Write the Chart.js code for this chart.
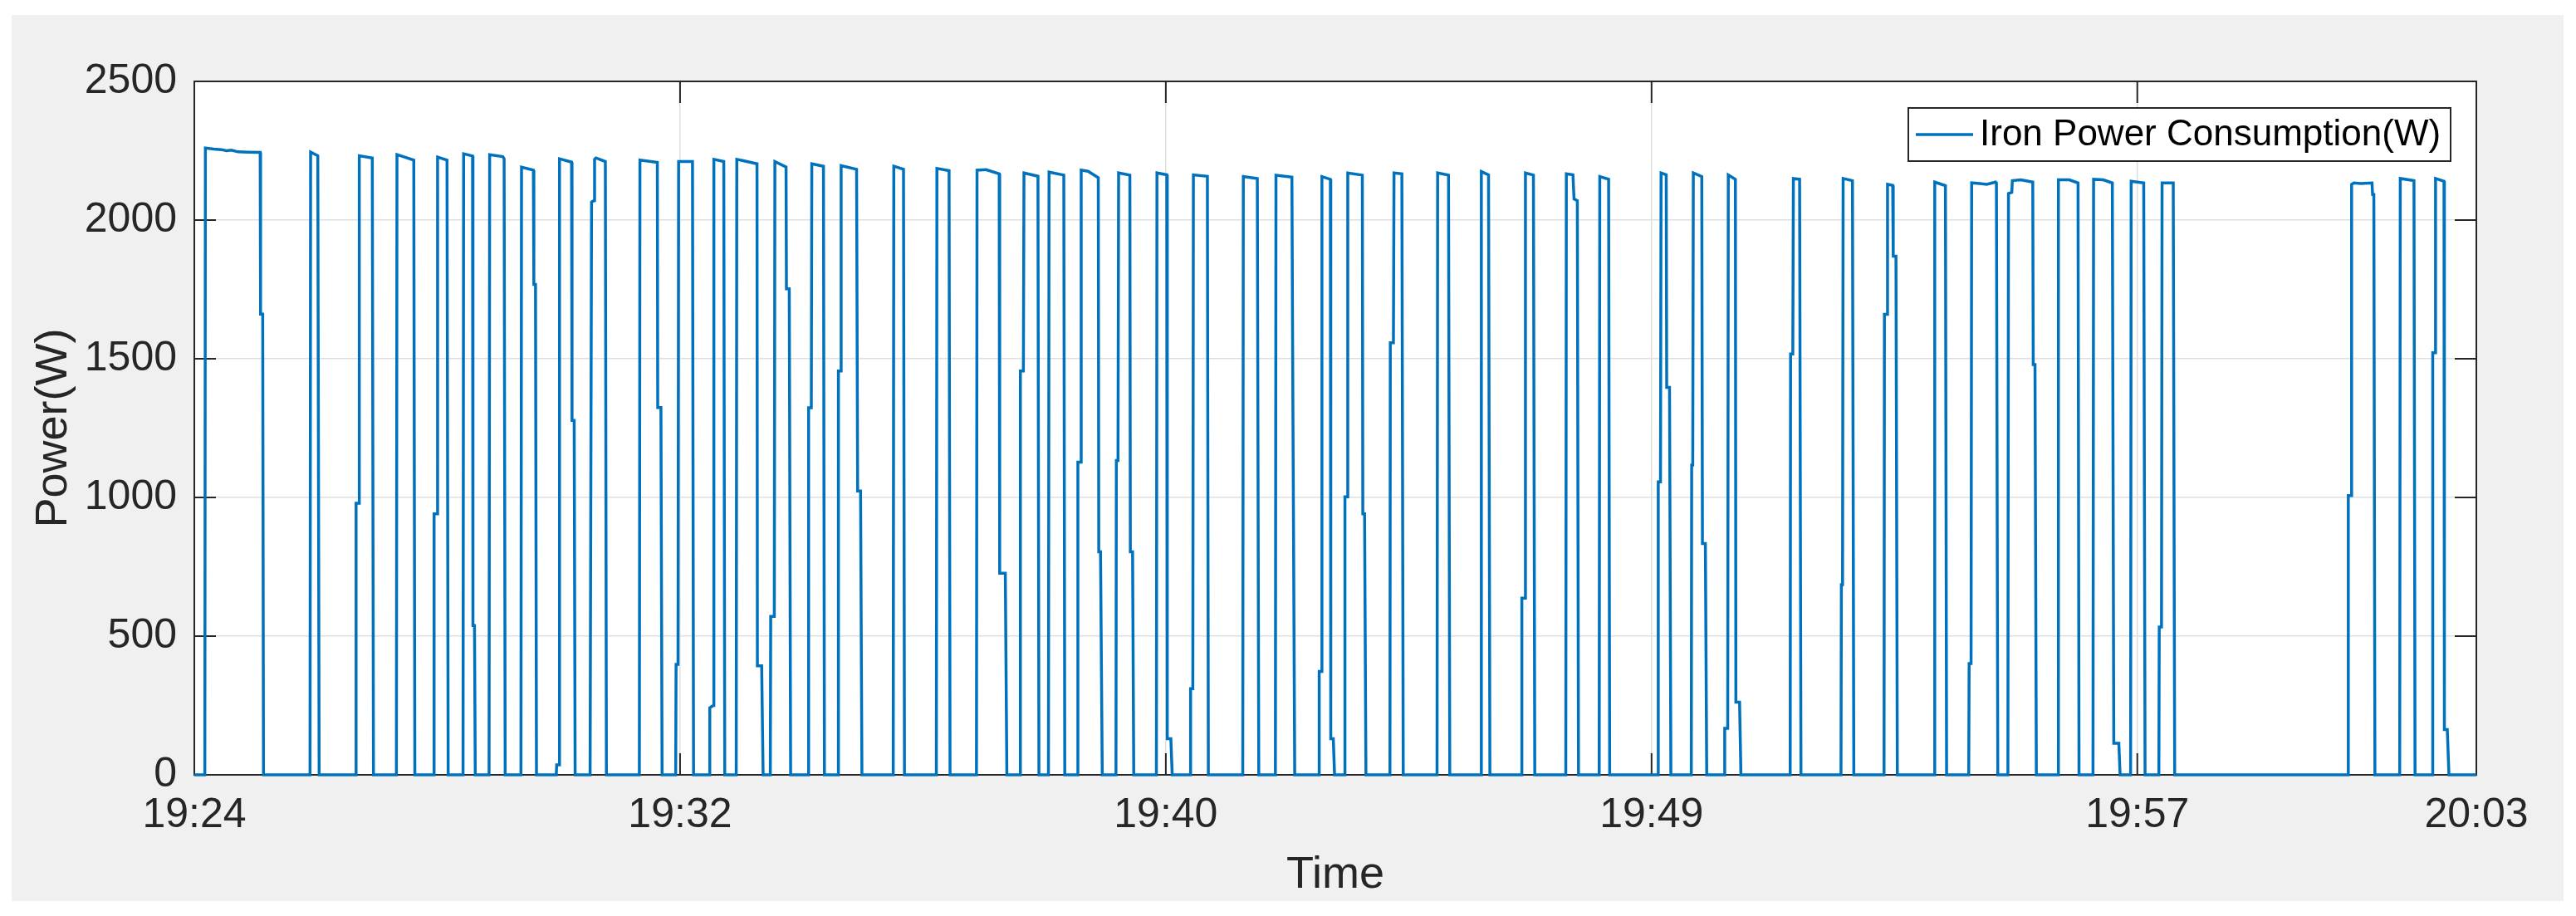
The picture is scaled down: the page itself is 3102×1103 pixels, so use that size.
<!DOCTYPE html>
<html>
<head>
<meta charset="utf-8">
<script src="https://cdn.jsdelivr.net/npm/chart.js@4.4.1/dist/chart.umd.min.js"></script>
<style>
  html, body { margin: 0; padding: 0; background: #ffffff; }
  canvas { display: block; }
</style>
</head>
<body>
<canvas id="ironChart" width="3102" height="1103"></canvas>
<script>
// x = seconds since 19:24, y = watts (vertices)
const ironSamples = [
    [0, 0],
    [10.8, 0], [11.4, 2260], [20, 2256], [28, 2254], [33, 2250], [38, 2252], [45, 2246], [55, 2245], [67.8, 2244], [68.2, 1661], [70.4, 1661], [71.2, 0],
    [119.1, 0], [119.7, 2245], [127.1, 2232], [128.5, 0],
    [166.1, 0], [166.5, 979], [169.3, 979], [169.8, 2232], [183.2, 2224], [184.4, 0],
    [208.0, 0], [208.6, 2236], [225.9, 2216], [227.0, 0],
    [246.4, 0], [246.8, 941], [249.9, 941], [250.4, 2227], [260.1, 2216], [261.3, 0],
    [276.6, 0], [277.2, 2239], [286.4, 2231], [286.8, 538], [288.4, 538], [289.2, 0],
    [303.4, 0], [304.0, 2236], [317.5, 2229], [318.9, 2221], [320.0, 0],
    [336.2, 0], [336.8, 2191], [349.0, 2180], [349.5, 1768], [351.2, 1768], [352.2, 0],
    [372.6, 0], [373.0, 36], [375.3, 36], [375.9, 2221], [388.3, 2209], [388.8, 1278], [391.0, 1278], [392.0, 0],
    [407.4, 0], [408.9, 2065], [411.4, 2070], [412.0, 2219], [413.5, 2224], [423.1, 2211], [424.2, 0],
    [458.1, 0], [458.7, 2216], [476.6, 2208], [477.0, 1324], [480.3, 1324], [481.5, 0],
    [495.5, 0], [495.9, 398], [497.9, 398], [498.5, 2211], [512.8, 2211], [513.9, 0],
    [530.0, 0], [530.6, 242], [534.3, 250], [534.8, 2219], [545.0, 2211], [546.0, 0],
    [557.8, 0], [558.4, 2219], [565.0, 2214], [579.2, 2203], [579.6, 393], [584.0, 393], [585.5, 0],
    [592.9, 0], [593.3, 571], [597.0, 571], [597.6, 2211], [609.1, 2191], [609.5, 1752], [612.4, 1752], [613.8, 0],
    [631.9, 0], [632.3, 1323], [635.1, 1323], [635.6, 2203], [647.6, 2194], [648.6, 0],
    [662.6, 0], [663.0, 1456], [665.2, 1456], [665.8, 2196], [681.7, 2183], [682.8, 1023], [685.8, 1023], [687.2, 0],
    [719.4, 0], [720.0, 2194], [730.0, 2183], [731.0, 0],
    [763.8, 0], [764.4, 2186], [776.9, 2178], [777.9, 0],
    [805.1, 0], [805.7, 2180], [815.0, 2182], [828.5, 2167], [829.0, 727], [834.8, 727], [836.4, 0],
    [849.9, 0], [850.3, 1456], [853.4, 1456], [854.0, 2170], [868.4, 2158], [869.4, 0],
    [879.2, 0], [879.8, 2173], [895.0, 2162], [896.0, 0],
    [909.1, 0], [909.5, 1127], [912.3, 1127], [912.9, 2180], [920.0, 2176], [930.5, 2153], [931.0, 804], [932.8, 804], [934.6, 0],
    [948.7, 0], [949.1, 1133], [950.8, 1133], [951.4, 2170], [963.0, 2162], [963.5, 804], [965.8, 804], [967.0, 0],
    [990.3, 0], [990.9, 2170], [1001.0, 2163], [1001.5, 130], [1005.2, 130], [1006.6, 0],
    [1025.1, 0], [1025.5, 311], [1027.8, 311], [1028.4, 2163], [1042.8, 2158], [1043.8, 0],
    [1079.2, 0], [1079.8, 2157], [1094.2, 2150], [1095.7, 0],
    [1112.8, 0], [1113.4, 2162], [1129.8, 2155], [1130.8, 1347], [1132.7, 0],
    [1157.5, 0], [1157.9, 373], [1160.1, 373], [1160.7, 2157], [1169.4, 2147], [1169.8, 130], [1172.4, 130], [1173.7, 0],
    [1184.0, 0], [1184.4, 1002], [1186.7, 1002], [1187.3, 2170], [1202.3, 2162], [1202.8, 941], [1204.6, 941], [1206.0, 0],
    [1230.7, 0], [1231.1, 1558], [1234.3, 1558], [1234.9, 2170], [1243.0, 2167], [1244.4, 0],
    [1279.2, 0], [1279.8, 2170], [1291.0, 2162], [1292.3, 0],
    [1324.2, 0], [1324.8, 2175], [1332.2, 2163], [1333.6, 0],
    [1366.1, 0], [1366.5, 637], [1369.6, 637], [1370.2, 2170], [1378.4, 2162], [1379.8, 0],
    [1411.7, 0], [1412.3, 2167], [1419.1, 2163], [1420.2, 2076], [1423.6, 2070], [1424.8, 0],
    [1446.1, 0], [1446.7, 2157], [1455.8, 2147], [1456.9, 0],
    [1506.5, 0], [1506.9, 1056], [1509.2, 1056], [1509.8, 2170], [1515.1, 2163], [1515.6, 1397], [1518.5, 1397], [1519.9, 0],
    [1540.9, 0], [1541.3, 1117], [1542.4, 1117], [1543.0, 2170], [1551.7, 2157], [1552.4, 834], [1555.4, 834], [1556.8, 0],
    [1574.9, 0], [1575.3, 168], [1578.4, 168], [1579.0, 2163], [1586.3, 2147], [1586.8, 262], [1590.6, 262], [1592.0, 0],
    [1642.7, 0], [1643.1, 1517], [1645.4, 1517], [1646.0, 2150], [1652.4, 2147], [1653.8, 0],
    [1695.0, 0], [1695.4, 686], [1696.6, 686], [1697.2, 2150], [1706.8, 2142], [1708.2, 0],
    [1739.3, 0], [1739.7, 1660], [1742.3, 1660], [1742.9, 2129], [1748.2, 2125], [1748.8, 1870], [1751.6, 1870], [1753.0, 0],
    [1790.9, 0], [1791.5, 2137], [1802.5, 2124], [1803.7, 0],
    [1826.5, 0], [1826.9, 401], [1828.9, 401], [1829.5, 2134], [1838.0, 2132], [1845.0, 2129], [1854.1, 2137], [1855.0, 2134], [1856.4, 0],
    [1866.8, 0], [1867.4, 2096], [1870.8, 2100], [1871.4, 2142], [1880.0, 2145], [1892.4, 2137], [1892.9, 1479], [1894.7, 1479], [1896.1, 0],
    [1918.2, 0], [1918.8, 2145], [1930.0, 2145], [1939.0, 2134], [1940.0, 0],
    [1954.4, 0], [1955.0, 2147], [1965.0, 2145], [1974.3, 2134], [1975.8, 114], [1981.0, 114], [1982.3, 0],
    [1993.1, 0], [1993.7, 2140], [2006.6, 2134], [2008.0, 0],
    [2022.2, 0], [2022.6, 533], [2024.9, 533], [2025.5, 2134], [2037.0, 2134], [2038.5, 0],
    [2216.8, 0], [2217.2, 1007], [2220.0, 1007], [2220.6, 2129], [2223.0, 2134], [2230.0, 2132], [2241.6, 2134], [2242.2, 2092], [2243.5, 2092], [2244.6, 0],
    [2270.1, 0], [2270.7, 2150], [2284.8, 2142], [2285.9, 0],
    [2303.7, 0], [2304.1, 1522], [2306.4, 1522], [2307.0, 2150], [2315.7, 2140], [2316.1, 163], [2319.1, 163], [2320.8, 0],
    [2349, 0]
];

const xTickSec = [0, 500, 1000, 1500, 2000, 2349];
const xTickLabels = ['19:24', '19:32', '19:40', '19:49', '19:57', '20:03'];
const yTicks = [0, 500, 1000, 1500, 2000, 2500];
const seriesLabel = 'Iron Power Consumption(W)';

const FONT = '"Liberation Sans", Arial, Helvetica, sans-serif';
const LINE_BLUE = '#0072bd';
const AXIS_DARK = '#262626';

// matlab style figure: grey panel, white axes, boxed frame with inward ticks, legend box
const matlabFrame = {
    id: 'matlabFrame',
    beforeDraw(chart) {
        const ctx = chart.ctx;
        const a = chart.chartArea;
        ctx.save();
        ctx.fillStyle = '#ffffff';
        ctx.fillRect(0, 0, chart.width, chart.height);
        ctx.fillStyle = '#f0f0f0';
        ctx.fillRect(14, 18, 3073, 1067);
        ctx.fillStyle = '#ffffff';
        ctx.fillRect(a.left, a.top, a.right - a.left, a.bottom - a.top);
        ctx.restore();
    },
    beforeDatasetsDraw(chart) {
        const ctx = chart.ctx;
        const a = chart.chartArea;
        const xs = chart.scales.x;
        const ys = chart.scales.y;
        const tick = 26;
        ctx.save();
        ctx.strokeStyle = AXIS_DARK;
        ctx.lineWidth = 2;
        ctx.strokeRect(a.left, a.top, a.right - a.left, a.bottom - a.top);
        ctx.beginPath();
        yTicks.forEach(v => {
            const py = ys.getPixelForValue(v);
            ctx.moveTo(a.left, py); ctx.lineTo(a.left + tick, py);
            ctx.moveTo(a.right, py); ctx.lineTo(a.right - tick, py);
        });
        xTickSec.forEach(v => {
            const px = xs.getPixelForValue(v);
            ctx.moveTo(px, a.bottom); ctx.lineTo(px, a.bottom - tick);
            ctx.moveTo(px, a.top); ctx.lineTo(px, a.top + tick);
        });
        ctx.stroke();
        ctx.restore();
    },
    afterDraw(chart) {
        const ctx = chart.ctx;
        const box = { x: 2298, y: 130, w: 653, h: 64 };
        const midY = box.y + box.h / 2;
        ctx.save();
        ctx.fillStyle = '#ffffff';
        ctx.fillRect(box.x, box.y, box.w, box.h);
        ctx.strokeStyle = AXIS_DARK;
        ctx.lineWidth = 2;
        ctx.strokeRect(box.x, box.y, box.w, box.h);
        ctx.strokeStyle = LINE_BLUE;
        ctx.lineWidth = 3.5;
        ctx.beginPath();
        ctx.moveTo(box.x + 9, midY);
        ctx.lineTo(box.x + 78, midY);
        ctx.stroke();
        ctx.fillStyle = '#000000';
        ctx.font = '44px ' + FONT;
        ctx.textAlign = 'left';
        ctx.textBaseline = 'middle';
        ctx.fillText(chart.data.datasets[0].label, box.x + 86, midY + 1);
        ctx.restore();
    }
};

const ctx = document.getElementById('ironChart').getContext('2d');
const ironChart = new Chart(ctx, {
    type: 'line',
    data: {
        datasets: [{
            label: seriesLabel,
            data: ironSamples.map(p => ({ x: p[0], y: p[1] })),
            borderColor: LINE_BLUE,
            borderWidth: 3.5,
            pointRadius: 0,
            tension: 0,
            fill: false,
            clip: 6
        }]
    },
    options: {
        responsive: false,
        devicePixelRatio: 1,
        animation: false,
        layout: {
            padding: { left: 0, right: 120, top: 98, bottom: 0 }
        },
        plugins: {
            legend: { display: false },
            tooltip: { enabled: false }
        },
        scales: {
            x: {
                type: 'linear',
                min: 0,
                max: 2349,
                afterBuildTicks: scale => {
                    scale.ticks = xTickSec.map(v => ({ value: v }));
                },
                afterFit: scale => {
                    scale.height = 170;
                },
                border: { display: false },
                grid: {
                    color: '#dfdfdf',
                    lineWidth: 1.5,
                    drawTicks: false
                },
                ticks: {
                    autoSkip: false,
                    maxRotation: 0,
                    padding: 19,
                    color: '#262626',
                    font: { family: FONT, size: 50 },
                    callback: (value, index) => xTickLabels[index]
                },
                title: {
                    display: true,
                    text: 'Time',
                    color: '#262626',
                    font: { family: FONT, size: 54 },
                    padding: { top: 0, bottom: 16 }
                }
            },
            y: {
                min: 0,
                max: 2500,
                afterBuildTicks: scale => {
                    scale.ticks = yTicks.map(v => ({ value: v }));
                },
                afterFit: scale => {
                    scale.width = 234;
                },
                border: { display: false },
                grid: {
                    color: '#dfdfdf',
                    lineWidth: 1.5,
                    drawTicks: false
                },
                ticks: {
                    padding: 21,
                    color: '#262626',
                    font: { family: FONT, size: 50 },
                    callback: value => String(value)
                },
                title: {
                    display: true,
                    text: 'Power(W)',
                    color: '#262626',
                    font: { family: FONT, size: 54 },
                    padding: { top: 33, bottom: 0 }
                }
            }
        }
    },
    plugins: [matlabFrame]
});
</script>
</body>
</html>
